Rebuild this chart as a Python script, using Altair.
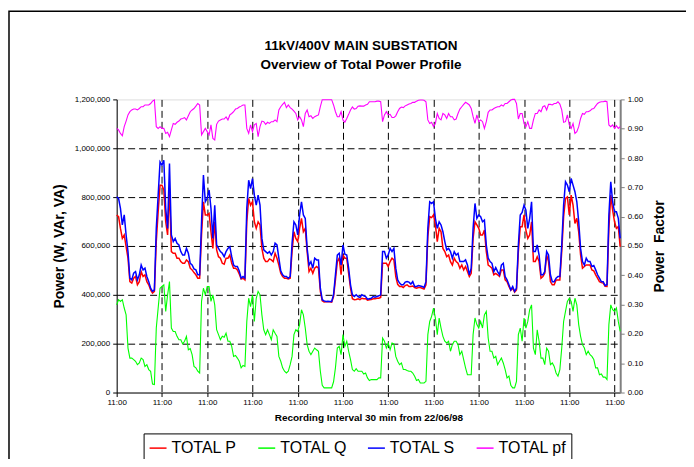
import altair as alt
import pandas as pd

SERIES = ["TOTAL P", "TOTAL Q", "TOTAL S", "TOTAL pf"]
COLORS = ["#ff0000", "#00ff00", "#0000ff", "#ff00ff"]
TITLE_LINES = ["11kV/400V MAIN SUBSTATION", "Overview of Total Power Profile"]
STEP_H = 1                      # read every hour, first sample 11:00 on 22/06/98
TICK_HOURS = [0, 24, 48, 72, 96, 120, 144, 168, 192, 216, 240, 264]
POWER_TICKS = [0, 200000, 400000, 600000, 800000, 1000000, 1200000]
PF_TICKS = [0.0, 0.1, 0.2, 0.3, 0.4, 0.5, 0.6, 0.7, 0.8, 0.9, 1.0]

# kW, one row per day (11:00 -> 10:00)
P_KW = [
    727, 720, 672, 631, 645, 597, 550, 454, 448, 468, 475, 441, 454, 495, 475, 482, 454, 441, 420, 407, 414, 618, 740, 849,
    849, 829, 699, 645, 835, 577, 570, 570, 550, 550, 536, 529, 529, 543, 536, 509, 502, 491, 482, 468, 468, 645, 781, 727,
    727, 733, 658, 590, 699, 584, 556, 550, 529, 525, 550, 550, 563, 529, 509, 509, 502, 485, 465, 468, 461, 699, 795, 767,
    781, 699, 672, 699, 686, 590, 550, 536, 536, 547, 543, 536, 570, 550, 522, 488, 475, 468, 468, 465, 468, 577, 658, 631,
    618, 672, 713, 658, 672, 577, 495, 509, 488, 509, 516, 509, 414, 376, 371, 372, 372, 372, 370, 393, 461, 536, 550, 482,
    563, 550, 550, 488, 427, 384, 380, 381, 384, 380, 386, 384, 384, 378, 380, 381, 384, 384, 386, 386, 389, 529, 529, 529,
    516, 536, 550, 543, 475, 443, 434, 435, 430, 438, 441, 434, 434, 436, 430, 427, 430, 430, 427, 424, 441, 638, 720, 716,
    727, 686, 618, 672, 658, 590, 577, 556, 563, 536, 522, 550, 536, 529, 509, 522, 502, 516, 495, 475, 488, 631, 699, 686,
    672, 645, 645, 665, 577, 522, 516, 509, 482, 488, 482, 475, 502, 502, 461, 454, 434, 419, 427, 411, 420, 577, 679, 679,
    727, 665, 631, 645, 699, 536, 536, 556, 536, 468, 475, 488, 563, 536, 454, 441, 441, 461, 461, 461, 577, 720, 795, 801,
    727, 808, 767, 692, 713, 658, 563, 509, 516, 522, 522, 522, 502, 498, 482, 468, 454, 450, 448, 435, 434, 672, 808, 747,
    699, 672, 679, 597,
]
# kVAr
Q_KVAR = [
    359, 380, 373, 380, 346, 318, 182, 141, 141, 135, 128, 114, 121, 141, 135, 107, 114, 94, 87, 35, 33, 264, 346, 427,
    434, 441, 332, 400, 454, 264, 250, 250, 230, 216, 216, 199, 210, 230, 175, 180, 155, 107, 101, 87, 80, 373, 427, 400,
    434, 434, 373, 400, 359, 257, 237, 216, 230, 226, 243, 210, 210, 189, 148, 152, 141, 128, 101, 111, 107, 291, 386, 352,
    400, 291, 386, 414, 400, 318, 257, 237, 257, 237, 216, 257, 243, 230, 148, 128, 101, 87, 80, 87, 114, 148, 237, 257,
    250, 278, 339, 318, 264, 196, 169, 155, 169, 182, 175, 169, 87, 30, 19, 19, 19, 19, 19, 44, 101, 182, 189, 155,
    237, 189, 210, 169, 135, 94, 87, 98, 87, 87, 87, 76, 80, 60, 49, 53, 53, 53, 53, 60, 60, 223, 210, 182,
    203, 175, 203, 199, 148, 128, 114, 121, 94, 94, 90, 87, 87, 80, 67, 49, 53, 39, 39, 39, 46, 237, 291, 312,
    346, 305, 237, 305, 264, 230, 210, 203, 210, 169, 196, 210, 210, 196, 155, 169, 135, 101, 73, 73, 73, 237, 305, 278,
    264, 291, 264, 318, 332, 223, 169, 169, 141, 148, 114, 128, 141, 121, 94, 60, 67, 30, 19, 19, 46, 237, 264, 210,
    305, 264, 291, 339, 359, 182, 155, 257, 210, 141, 141, 114, 182, 169, 114, 121, 107, 80, 67, 94, 182, 291, 332, 373,
    386, 373, 332, 386, 359, 278, 230, 196, 182, 155, 169, 155, 148, 135, 101, 101, 73, 76, 63, 63, 53, 278, 359, 339,
    332, 346, 291, 250,
]
# kVA
S_KVA = [
    801, 795, 754, 686, 727, 645, 577, 468, 461, 489, 495, 461, 482, 522, 502, 509, 475, 454, 427, 414, 420, 672, 808, 944,
    931, 951, 754, 672, 937, 645, 618, 631, 611, 604, 577, 563, 563, 590, 570, 529, 522, 506, 502, 482, 482, 699, 890, 781,
    795, 829, 754, 631, 767, 604, 590, 577, 570, 556, 577, 590, 597, 556, 522, 516, 516, 498, 468, 475, 468, 754, 869, 835,
    876, 808, 767, 808, 767, 631, 584, 577, 570, 577, 563, 577, 611, 604, 550, 498, 482, 475, 475, 468, 475, 611, 699, 686,
    645, 727, 781, 727, 713, 590, 522, 536, 509, 550, 543, 543, 427, 380, 375, 373, 374, 373, 373, 400, 482, 563, 570, 522,
    604, 566, 563, 509, 441, 400, 393, 400, 393, 389, 400, 396, 393, 382, 384, 386, 393, 390, 393, 396, 400, 577, 577, 550,
    563, 590, 577, 590, 509, 461, 448, 441, 441, 452, 454, 452, 444, 454, 434, 434, 438, 436, 434, 430, 454, 672, 781, 774,
    781, 713, 672, 699, 686, 658, 618, 584, 590, 577, 550, 577, 563, 570, 536, 536, 536, 543, 522, 482, 509, 672, 774, 713,
    727, 720, 699, 706, 604, 550, 536, 529, 495, 512, 495, 482, 522, 529, 475, 461, 441, 420, 434, 414, 427, 604, 727, 737,
    767, 747, 672, 713, 781, 577, 577, 604, 563, 482, 482, 495, 577, 563, 482, 454, 454, 468, 475, 475, 604, 767, 863, 849,
    822, 876, 849, 822, 781, 699, 590, 536, 522, 550, 536, 536, 516, 520, 502, 482, 468, 454, 454, 438, 441, 727, 863, 781,
    740, 740, 713, 631,
]
PF = [
    0.901, 0.896, 0.884, 0.876, 0.907, 0.926, 0.947, 0.958, 0.964, 0.967, 0.967, 0.964,
    0.969, 0.975, 0.975, 0.981, 0.981, 0.981, 0.986, 0.994, 0.998, 0.907, 0.901, 0.907,
    0.901, 0.901, 0.884, 0.888, 0.873, 0.896, 0.918, 0.915, 0.922, 0.926, 0.933, 0.935,
    0.938, 0.930, 0.944, 0.958, 0.964, 0.969, 0.977, 0.986, 0.981, 0.879, 0.890, 0.901,
    0.890, 0.879, 0.913, 0.867, 0.862, 0.915, 0.926, 0.930, 0.933, 0.933, 0.940, 0.930,
    0.947, 0.952, 0.958, 0.967, 0.969, 0.974, 0.977, 0.981, 0.981, 0.901, 0.884, 0.913,
    0.890, 0.913, 0.918, 0.873, 0.907, 0.926, 0.924, 0.915, 0.922, 0.918, 0.924, 0.924,
    0.930, 0.924, 0.964, 0.975, 0.983, 0.990, 0.972, 0.981, 0.972, 0.967, 0.960, 0.952,
    0.930, 0.941, 0.930, 0.907, 0.952, 0.964, 0.941, 0.944, 0.935, 0.941, 0.944, 0.947,
    0.975, 0.999, 0.999, 0.999, 0.999, 0.999, 0.999, 0.981, 0.958, 0.941, 0.941, 0.958,
    0.930, 0.922, 0.935, 0.949, 0.964, 0.974, 0.967, 0.969, 0.977, 0.978, 0.977, 0.977,
    0.981, 0.983, 0.992, 0.992, 0.992, 0.992, 0.994, 0.994, 0.992, 0.924, 0.947, 0.958,
    0.947, 0.949, 0.938, 0.938, 0.944, 0.958, 0.969, 0.974, 0.972, 0.978, 0.981, 0.984,
    0.986, 0.990, 0.990, 0.994, 0.997, 0.998, 0.998, 0.997, 0.992, 0.930, 0.918, 0.922,
    0.907, 0.918, 0.952, 0.935, 0.930, 0.952, 0.947, 0.935, 0.952, 0.941, 0.941, 0.930,
    0.933, 0.952, 0.967, 0.975, 0.983, 0.990, 0.986, 0.981, 0.969, 0.941, 0.918, 0.947,
    0.924, 0.930, 0.924, 0.901, 0.924, 0.956, 0.964, 0.964, 0.969, 0.972, 0.975, 0.975,
    0.981, 0.977, 0.986, 0.986, 0.992, 0.998, 1.000, 1.000, 0.986, 0.933, 0.952, 0.952,
    0.918, 0.907, 0.924, 0.901, 0.901, 0.930, 0.952, 0.952, 0.964, 0.958, 0.975, 0.978,
    0.964, 0.983, 0.983, 0.981, 0.986, 0.986, 0.992, 0.984, 0.964, 0.922, 0.924, 0.947,
    0.913, 0.901, 0.918, 0.884, 0.890, 0.907, 0.935, 0.952, 0.949, 0.958, 0.958, 0.961,
    0.967, 0.969, 0.978, 0.986, 0.990, 0.992, 0.992, 0.994, 0.992, 0.913, 0.907, 0.913,
    0.901, 0.910, 0.901, 0.907,
]

n = len(S_KVA)
hours = [i * STEP_H for i in range(n)]
power = pd.DataFrame({
    "h": hours * 3,
    "v": [x * 1000 for x in P_KW + Q_KVAR + S_KVA],
    "series": ["TOTAL P"] * n + ["TOTAL Q"] * n + ["TOTAL S"] * n,
})
pf_df = pd.DataFrame({"h": hours, "pf": PF, "series": ["TOTAL pf"] * n})

FONT = "Liberation Sans"

xscale = alt.Scale(domain=[0, 267], nice=False, zero=False)
xaxis = alt.Axis(
    values=TICK_HOURS, labelExpr="'11:00'", labelFontSize=8, labelColor="black",
    labelFont=FONT, labelPadding=2, labelFlush=False,
    title="Recording Interval 30 min from 22/06/98", titleFont=FONT,
    titleFontSize=10, titleFontWeight="bold", titleColor="black",
    titleX=252.5, titleY=25, titleAlign="center", titleBaseline="middle",
    tickSize=4, tickColor="black", domainColor="black",
    grid=True, gridColor="black", gridDash=[7, 4], gridWidth=1,
    gridOpacity={"condition": {"test": "datum.value === 0", "value": 0}, "value": 1},
)
yscale = alt.Scale(domain=[0, 1200000], nice=False)
yaxis = alt.Axis(
    values=POWER_TICKS, format=",d", labelFontSize=8, labelColor="black",
    labelFont=FONT, labelPadding=3,
    title="Power (W, VAr, VA)", titleFont=FONT, titleFontSize=14,
    titleFontWeight="bold", titleColor="black", titleAngle=270,
    titleX=-57, titleY=147, titleAlign="center", titleBaseline="middle",
    tickSize=4, tickColor="black", domainColor="black",
    grid=True, gridColor="black", gridDash=[7, 4], gridWidth=1,
    gridOpacity={"condition": {"test": "datum.value === 0 || datum.value === 1200000",
                               "value": 0}, "value": 1},
)
pfaxis = alt.Axis(
    orient="right", values=PF_TICKS, format=".2f", labelFontSize=8,
    labelColor="black", labelFont=FONT, labelPadding=3,
    title="Power\u00a0\u00a0Factor", titleFont=FONT, titleFontSize=14,
    titleFontWeight="bold", titleColor="black", titleAngle=270,
    titleX=39, titleY=147, titleAlign="center", titleBaseline="middle",
    tickSize=4, tickColor="#808080", domainColor="#808080", domainWidth=2,
    grid=False,
)
color = alt.Color(
    "series:N",
    scale=alt.Scale(domain=SERIES, range=COLORS),
    legend=alt.Legend(
        title=None, orient="none", legendX=27, legendY=335, direction="horizontal",
        symbolType="stroke", symbolSize=289, symbolStrokeWidth=1.5,
        labelFontSize=16, labelFont=FONT, labelColor="black", labelOffset=4,
        columnPadding=18, padding=5, strokeColor="black", fillColor="white",
    ),
)

base = alt.Chart(power)


def power_line(name, width):
    return base.transform_filter(f"datum.series === '{name}'").mark_line(
        strokeWidth=width
    ).encode(
        x=alt.X("h:Q", scale=xscale, axis=xaxis),
        y=alt.Y("v:Q", scale=yscale, axis=yaxis),
        color=color,
    )


left = alt.layer(
    power_line("TOTAL P", 1.5),
    power_line("TOTAL Q", 1.1),
    power_line("TOTAL S", 1.5),
)

pf_line = alt.Chart(pf_df).mark_line(strokeWidth=1.1).encode(
    x=alt.X("h:Q", scale=xscale, axis=xaxis),
    y=alt.Y("pf:Q", scale=alt.Scale(domain=[0, 1], nice=False), axis=pfaxis),
    color=color,
)

one = alt.Data(values=[{"k": 1}])
border = alt.Chart(one).mark_rect(
    filled=False, stroke="black", strokeWidth=1.5
).encode(
    x=alt.value(-108), x2=alt.value(700), y=alt.value(-88.5), y2=alt.value(500)
)
title1 = alt.Chart(one).mark_text(
    text=TITLE_LINES[0], font=FONT, fontSize=13.5, fontWeight="bold",
    color="black", align="center", baseline="middle",
).encode(x=alt.value(245), y=alt.value(-54))
title2 = alt.Chart(one).mark_text(
    text=TITLE_LINES[1], font=FONT, fontSize=13.5, fontWeight="bold",
    color="black", align="center", baseline="middle",
).encode(x=alt.value(245), y=alt.value(-34))

chart = alt.layer(left, pf_line, border, title1, title2).resolve_scale(
    y="independent"
).properties(
    width=505, height=294,
    autosize=alt.AutoSizeParams(type="none"),
    padding={"left": 109, "top": 91, "right": 66, "bottom": 66},
).configure_view(stroke="#808080", strokeWidth=1).configure(background="white")

chart.save("out.html", embed_options={"renderer": "svg", "actions": False})
